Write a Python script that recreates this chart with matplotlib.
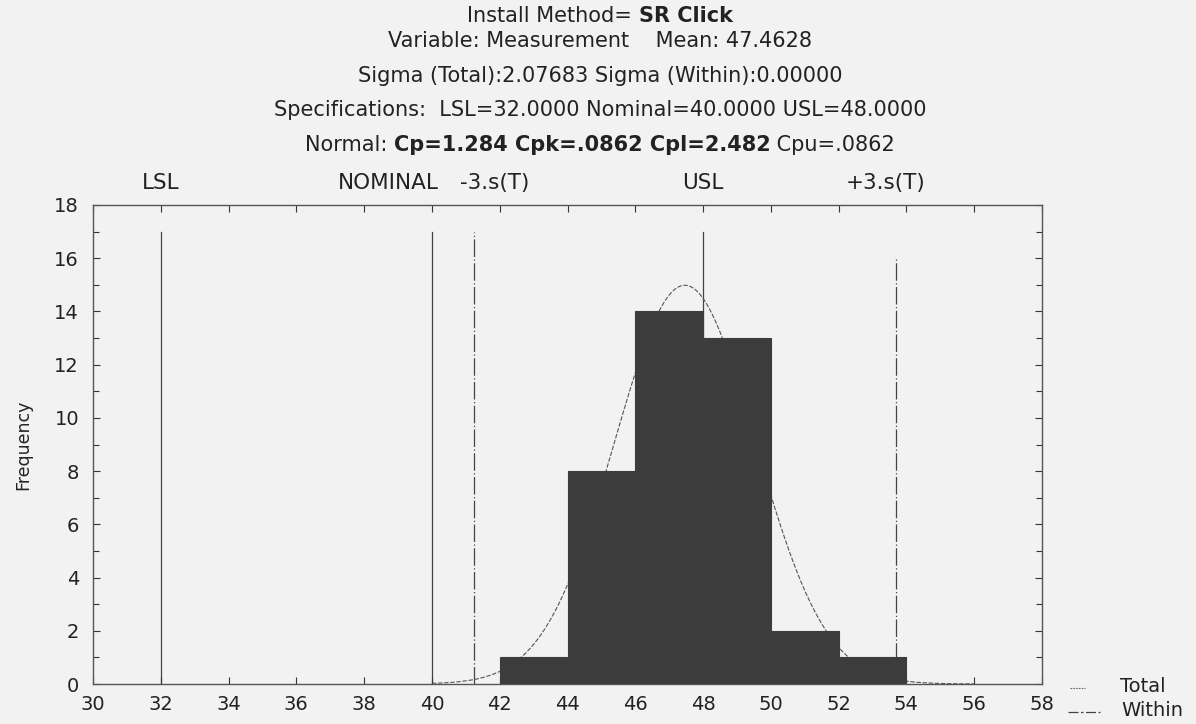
import numpy as np
import matplotlib
matplotlib.use("Agg")
import matplotlib.pyplot as plt
from matplotlib.lines import Line2D
from matplotlib.ticker import MultipleLocator

plt.rcParams['font.family'] = ['DejaVu Sans']

# ---- data ----
bin_left = [42, 44, 46, 48, 50, 52]
bin_width = 2
counts = [1, 8, 14, 13, 2, 1]
mean_total = 47.4628
sigma_total = 2.07683
LSL = 32.0
NOMINAL = 40.0
USL = 48.0
x_ticks = [30, 32, 34, 36, 38, 40, 42, 44, 46, 48, 50, 52, 54, 56, 58]
y_ticks = [0, 2, 4, 6, 8, 10, 12, 14, 16, 18]

BG = '#f2f2f2'
BAR = '#3c3c3c'
TXT = '#222222'

W, H = 1196, 724
AX_L, AX_R, AX_T, AX_B = 93, 1042, 205, 684
fig = plt.figure(figsize=(W / 100, H / 100), dpi=100, facecolor=BG)
ax = fig.add_axes([AX_L / W, 1 - AX_B / H, (AX_R - AX_L) / W, (AX_B - AX_T) / H])
ax.set_facecolor(BG)

ax.bar(bin_left, counts, width=bin_width, align='edge', color=BAR,
       edgecolor=BAR, linewidth=0.8, zorder=2)

# fitted normal curve (Total) from the stated mean and sigma
n = sum(counts)
xs = np.linspace(40, 56, 400)
ys = n * bin_width / (sigma_total * np.sqrt(2 * np.pi)) * np.exp(-0.5 * ((xs - mean_total) / sigma_total) ** 2)
ax.plot(xs, ys, color='#555555', linewidth=0.8, linestyle=(0, (4, 1.5)), zorder=1.5)

# spec lines
lo3 = mean_total - 3 * sigma_total
hi3 = mean_total + 3 * sigma_total
for xv in (LSL, NOMINAL, USL):
    ax.plot([xv, xv], [0, 17], color='#444444', linewidth=0.9, zorder=1)
ax.plot([lo3, lo3], [0, 17], color='#444444', linewidth=0.9,
        linestyle=(0, (14, 2, 1, 2)), zorder=1)
ax.plot([hi3, hi3], [0, 16], color='#444444', linewidth=0.9,
        linestyle=(0, (14, 2, 1, 2)), zorder=1)

ax.set_xlim(30, 58)
ax.set_ylim(0, 18)
ax.set_xticks(x_ticks)
ax.set_yticks(y_ticks)
ax.yaxis.set_minor_locator(MultipleLocator(1))
ax.tick_params(axis='both', which='both', direction='in', top=True, right=True,
               color='#333333', labelcolor=TXT, labelsize=14)
ax.tick_params(axis='both', which='major', length=5, width=0.8)
ax.tick_params(axis='both', which='minor', length=4, width=0.8)
ax.tick_params(axis='x', pad=8)
ax.tick_params(axis='y', pad=10)
for s in ax.spines.values():
    s.set_color('#555555')
    s.set_linewidth(1.0)
ax.set_ylabel('Frequency', fontsize=12.5, color=TXT, labelpad=16)

# labels above axes
lab_y = 1 + (AX_T - 183) / (AX_B - AX_T)
for txt, xv, ha in [('LSL', LSL, 'center'), ('NOMINAL', NOMINAL + 0.2, 'right'),
                    ('-3.s(T)', lo3 - 0.4, 'left'), ('USL', USL, 'center'),
                    ('+3.s(T)', hi3 - 0.3, 'center')]:
    ax.text(xv, lab_y, txt, transform=ax.get_xaxis_transform(), ha=ha, va='center',
            fontsize=15.5, color=TXT)

# header lines with mixed weight
fig.canvas.draw()
renderer = fig.canvas.get_renderer()


def mixed(ypix, runs, size=15):
    objs = []
    total = 0.0
    for s, w in runs:
        t = fig.text(0, 1 - ypix / H, s, fontsize=size, fontweight=w, va='center',
                     ha='left', color=TXT)
        wpx = t.get_window_extent(renderer).width
        objs.append((t, wpx))
        total += wpx
    x = (W - total) / 2 + 2
    for t, wpx in objs:
        t.set_x(x / W)
        x += wpx


mixed(16, [('Install Method=\u00a0', 'normal'), ('SR Click', 'bold')])
mixed(41, [('Variable: Measurement    Mean: 47.4628', 'normal')])
mixed(76, [('Sigma (Total):2.07683 Sigma (Within):0.00000', 'normal')])
mixed(110, [('Specifications:  LSL=32.0000 Nominal=40.0000 USL=48.0000', 'normal')])
mixed(145, [('Normal:\u00a0', 'normal'), ('Cp=1.284 Cpk=.0862 Cpl=2.482', 'bold'),
            ('\u00a0Cpu=.0862', 'normal')])

# legend (bottom right)
fig.add_artist(Line2D([1070 / W, 1085 / W], [1 - 688 / H, 1 - 688 / H], color='#666666',
                      linewidth=0.8, linestyle=(0, (1.5, 1))))
fig.add_artist(Line2D([1068 / W, 1100 / W], [1 - 712 / H, 1 - 712 / H], color='#444444',
                      linewidth=0.9, linestyle=(0, (8, 2, 2, 2))))
fig.text(1120 / W, 1 - 687 / H, 'Total', fontsize=14, va='center', ha='left', color=TXT)
fig.text(1121 / W, 1 - 710 / H, 'Within', fontsize=14, va='center', ha='left', color=TXT)

fig.savefig('out.png', dpi=100, facecolor=BG)
